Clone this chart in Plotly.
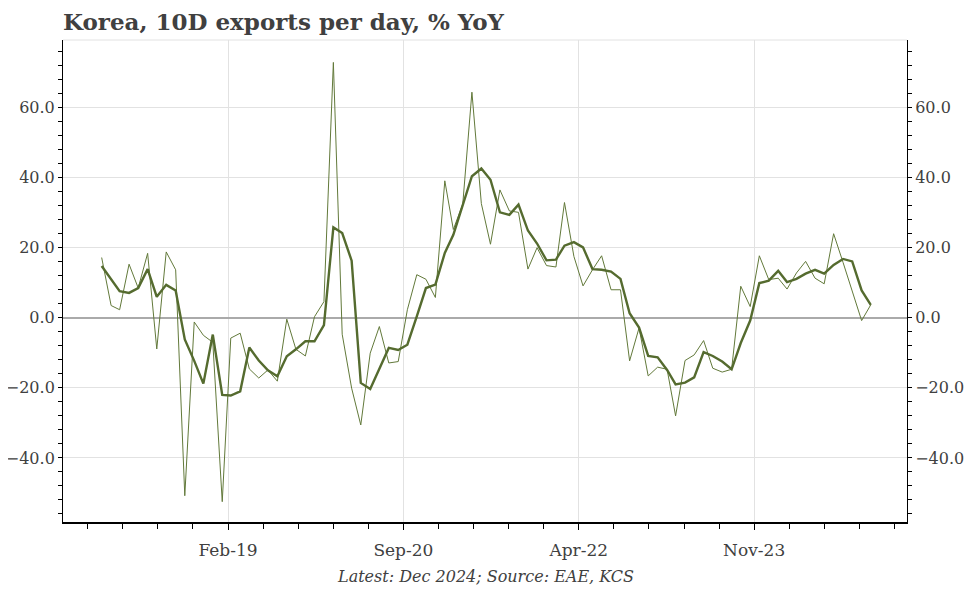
import pandas as pd
import plotly.graph_objects as go

# ---- data ----
start_month = "2018-01-01"
n_months = 84
exports_10d = [17.2, 3.5, 2.3, 15.3, 8.5, 18.4, -8.9, 18.8, 13.7, -50.8,
               -1.2, -5.0, -7.0, -52.5, -5.8, -4.4, -14.6, -17.2, -14.9, -18.1,
               -0.4, -9.0, -10.9, 0.3, 4.6, 72.9, -4.7, -20.1, -30.6, -10.1,
               -2.5, -12.9, -12.5, 2.3, 12.3, 11.0, 5.8, 39.1, 25.2, 32.5,
               64.4, 32.6, 21.0, 36.5, 30.5, 30.1, 13.9, 20.0, 14.9, 14.5,
               32.9, 17.5, 9.1, 13.7, 17.7, 8.0, 8.0, -12.3, -2.9, -16.6,
               -14.1, -14.7, -28.0, -12.2, -10.6, -6.5, -14.4, -15.5, -14.7, 9.0,
               3.2, 17.7, 10.9, 11.3, 8.2, 12.8, 16.1, 11.3, 9.7, 24.0,
               15.8, 7.5, -0.8, 3.7]
exports_smooth = [14.8, 11.1, 7.6, 7.1, 8.5, 13.9, 6.0, 9.4, 7.8, -6.2,
                  -12.3, -18.8, -4.8, -22.0, -22.2, -21.0, -8.5, -12.2, -15.0, -16.7,
                  -11.0, -9.0, -6.7, -6.7, -2.1, 25.8, 24.2, 16.3, -18.6, -20.3,
                  -14.4, -8.6, -9.2, -7.7, 0.4, 8.5, 9.5, 18.5, 23.7, 32.3,
                  40.4, 42.6, 39.4, 30.1, 29.4, 32.3, 24.9, 21.2, 16.4, 16.6,
                  20.6, 21.6, 20.1, 13.9, 13.7, 13.2, 11.1, 1.3, -2.8, -10.9,
                  -11.3, -14.9, -19.0, -18.5, -17.0, -9.8, -10.9, -12.5, -14.7, -7.2,
                  -0.8, 9.9, 10.6, 13.4, 10.2, 11.1, 12.6, 13.7, 12.6, 15.1,
                  16.8, 16.1, 7.8, 3.7]
tick_dates = ["2019-02-20", "2020-09-18", "2022-04-17", "2023-11-14"]
tick_labels = ["Feb-19", "Sep-20", "Apr-22", "Nov-23"]
y_ticks = [-40, -20, 0, 20, 40, 60]

dates = pd.date_range(start_month, periods=n_months, freq="MS")

FONT = "DejaVu Serif"
TXT = "#404040"
THIN_C = "#62793a"
THICK_C = "#556b2f"

# page body has an 8px margin, so the figure is sized to end at the window edge
W, H = 964, 581

fig = go.Figure()
fig.add_trace(go.Scatter(x=dates, y=exports_10d, mode="lines",
                         line=dict(color=THIN_C, width=1), yaxis="y",
                         showlegend=False, hoverinfo="skip"))
fig.add_trace(go.Scatter(x=dates, y=exports_smooth, mode="lines",
                         line=dict(color=THICK_C, width=2.4), yaxis="y2",
                         showlegend=False))

yr = [-58.3, 79.3]
minor_day_ms = 115.2 * 86400000

common_y = dict(range=yr, tickvals=y_ticks, tickformat=".1f",
                showline=True, linecolor="black", linewidth=1,
                ticks="outside", ticklen=4, tickcolor="black",
                automargin=False,
                tickfont=dict(family=FONT, size=16, color=TXT),
                minor=dict(dtick=4, tick0=0, ticks="outside", ticklen=4,
                           tickcolor="black", showgrid=False))

fig.update_layout(
    width=W, height=H,
    margin=dict(l=55, r=65, t=32, b=67, autoexpand=False),
    paper_bgcolor="white", plot_bgcolor="white",
    title=dict(text="<b>Korea, 10D exports per day, % YoY</b>",
               x=55 / W, xanchor="left", xref="container",
               y=1 - 14 / H, yanchor="middle", yref="container",
               font=dict(family=FONT, size=23, color=TXT)),
    xaxis=dict(type="date", range=["2017-08-27", "2025-03-30"],
               tickvals=tick_dates, ticktext=tick_labels,
               showgrid=True, gridcolor="#e2e2e2", gridwidth=1,
               showline=True, linecolor="black", linewidth=1.5,
               ticks="outside", ticklen=6, tickcolor="black",
               ticklabelstandoff=6, automargin=False,
               tickfont=dict(family=FONT, size=17, color=TXT),
               minor=dict(dtick=minor_day_ms, tick0=tick_dates[0],
                          ticks="outside", ticklen=5, tickcolor="black",
                          showgrid=False),
               zeroline=False),
    yaxis=dict(**common_y, side="left", showgrid=True, gridcolor="#e2e2e2",
               gridwidth=1, zeroline=True, zerolinecolor="#aaaaaa",
               zerolinewidth=2),
    yaxis2=dict(**common_y, side="right", overlaying="y", showgrid=False,
                zeroline=False),
    shapes=[dict(type="line", xref="paper", yref="paper", x0=0, x1=1,
                 y0=1, y1=1, line=dict(color="#e2e2e2", width=1))],
    annotations=[dict(text="<i>Latest: Dec 2024; Source: EAE, KCS</i>",
                      xref="paper", yref="paper", x=0.5, y=-0.114,
                      xanchor="center", yanchor="middle", showarrow=False,
                      font=dict(family=FONT, size=16, color=TXT))],
)

fig.write_html("out.html")
